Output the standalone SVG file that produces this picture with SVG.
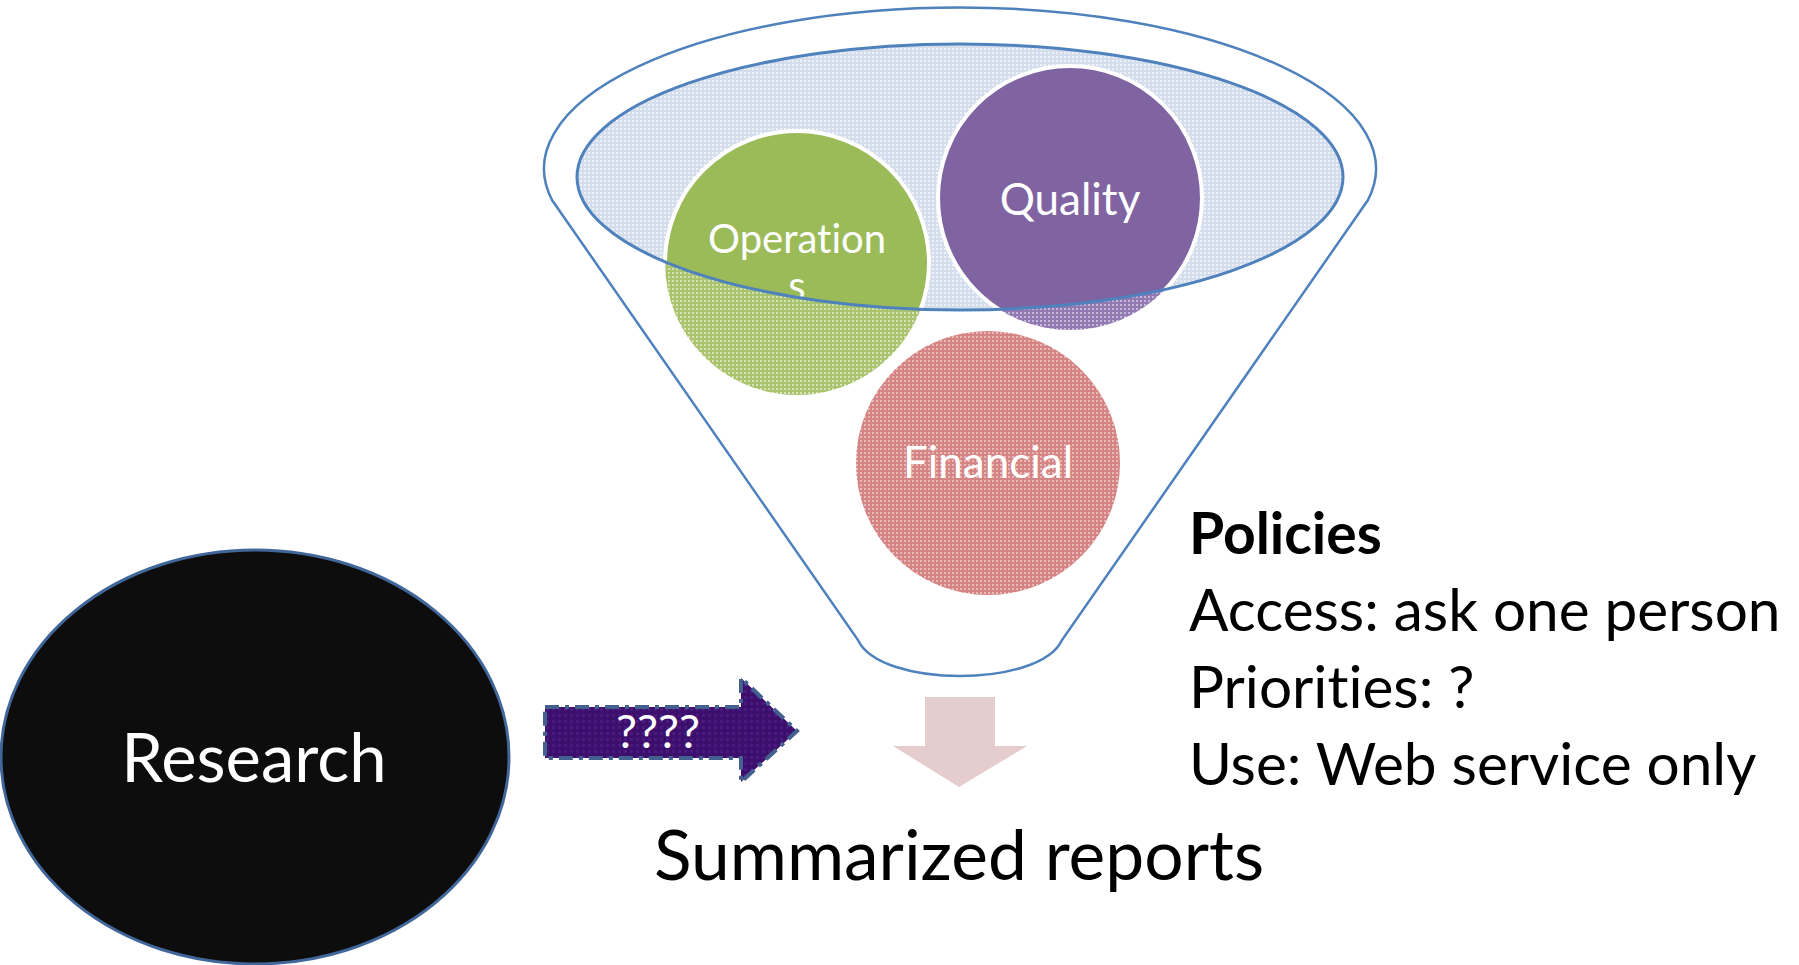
<svg xmlns="http://www.w3.org/2000/svg" width="1799" height="965" viewBox="0 0 1799 965">
<style>
text{font-variant-ligatures:none;font-feature-settings:"liga" 0}
.lbl{font-family:Lato,"Liberation Sans",sans-serif;fill:#fff;text-anchor:middle}
.blk{font-family:Lato,"Liberation Sans",sans-serif;fill:#000}
</style>
<defs>
<pattern id="pBlue" width="4" height="4" patternUnits="userSpaceOnUse"><rect width="4" height="4" fill="#D3DDEC"/><rect width="2" height="2" fill="#EEF2F8"/></pattern>
<pattern id="pGreen" width="4" height="4" patternUnits="userSpaceOnUse"><rect width="4" height="4" fill="#A9C46C"/><rect width="2" height="2" fill="#D6E3BA"/></pattern>
<pattern id="pPurple" width="4" height="4" patternUnits="userSpaceOnUse"><rect width="4" height="4" fill="#9279B2"/><rect width="2" height="2" fill="#C6B8D8"/></pattern>
<pattern id="pRed" width="4" height="4" patternUnits="userSpaceOnUse"><rect width="4" height="4" fill="#D48583"/><rect width="2" height="2" fill="#E8B9B8"/></pattern>
<pattern id="pArrow" width="6" height="6" patternUnits="userSpaceOnUse"><rect width="6" height="6" fill="#3B0F6B"/><rect width="3" height="3" fill="#4A1A80"/></pattern>
<clipPath id="inner"><ellipse cx="960" cy="177" rx="383" ry="133"/></clipPath>
</defs>
<rect width="1799" height="965" fill="#fff"/>

<g id="funnel">
<path d="M 552,200 A 416 161 0 1 1 1368,200 L 1062,640 C 1040,688 880,688 858,640 Z" fill="#fff" stroke="#4F81BD" stroke-width="2.5"/>
<ellipse cx="960" cy="177" rx="383" ry="133" fill="url(#pBlue)"/>
</g>

<g id="operations">
<circle cx="797" cy="263" r="132" fill="url(#pGreen)"/>
<circle cx="797" cy="263" r="132" fill="#9BBB59" stroke="#fff" stroke-width="4" clip-path="url(#inner)"/>
<g clip-path="url(#inner)">
<text class="lbl" x="797" y="253" font-size="40">Operation</text>
<text class="lbl" x="797" y="300" font-size="40">s</text>
</g>
</g>

<g id="quality">
<circle cx="1070" cy="198" r="132" fill="url(#pPurple)"/>
<circle cx="1070" cy="198" r="132" fill="#8064A2" stroke="#fff" stroke-width="4" clip-path="url(#inner)"/>
<text class="lbl" x="1070" y="215" font-size="44">Quality</text>
</g>

<g id="financial">
<circle cx="988" cy="463" r="132" fill="url(#pRed)"/>
<text class="lbl" x="988" y="478" font-size="44">Financial</text>
</g>

<g id="funnel-rim">
<ellipse cx="960" cy="177" rx="383" ry="133" fill="none" stroke="#4F81BD" stroke-width="3"/>
</g>

<g id="research">
<ellipse cx="255" cy="757" rx="254" ry="207" fill="#0D0D0D" stroke="#41679A" stroke-width="3"/>
<text class="lbl" x="254" y="782" font-size="67">Research</text>
</g>

<g id="connectors">
<g id="arrow-unknown">
<path d="M 545,707 L 741,707 L 741,678 L 797,731 L 741,782 L 741,758 L 545,758 Z" fill="url(#pArrow)" stroke="#44608F" stroke-width="4" stroke-dasharray="14 6 4 6"/>
<text class="lbl" x="658" y="748" font-size="47">????</text>
</g>
<path id="arrow-down" d="M 925,697 L 995,697 L 995,746 L 1027,746 L 959,787 L 893,746 L 925,746 Z" fill="#E6CDCD"/>
</g>

<g id="policies">
<text class="blk" x="1189" y="554" font-size="57" font-weight="bold">Policies</text>
<text class="blk" x="1189" y="631" font-size="58.5">Access: ask one person</text>
<text class="blk" x="1189" y="708" font-size="58.5">Priorities: ?</text>
<text class="blk" x="1189" y="785" font-size="58.5">Use: Web service only</text>
</g>

<g id="summary">
<text class="blk" x="959" y="880" font-size="69.5" text-anchor="middle">Summarized reports</text>
</g>
</svg>
